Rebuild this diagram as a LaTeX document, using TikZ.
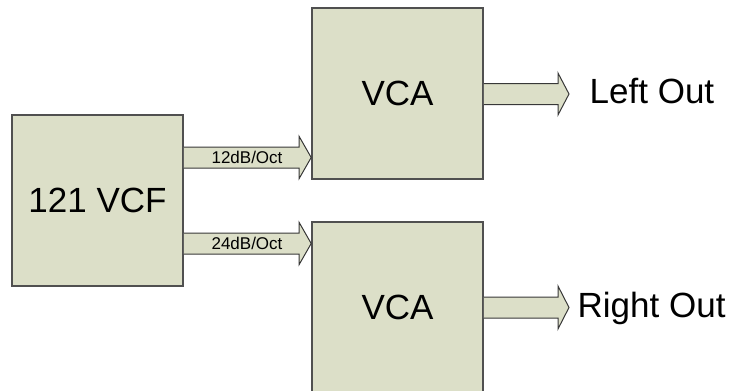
\documentclass[tikz,border=0pt]{standalone}
\usepackage{fontspec}
\setmainfont{Liberation Sans}
\usetikzlibrary{calc}
\definecolor{boxfill}{HTML}{DCDFC8}
\definecolor{boxline}{HTML}{505050}
\definecolor{arrline}{HTML}{383838}
\tikzset{
  block/.style={draw=boxline, line width=1.6pt, fill=boxfill, minimum width=171pt, minimum height=171pt, inner sep=0pt, font=\fontsize{35}{40}\selectfont},
  outlabel/.style={inner sep=0pt, anchor=base west, font=\fontsize{35}{40}\selectfont},
  smalllabel/.style={inner sep=0pt, font=\fontsize{17}{20}\selectfont},
  arrfill/.style={fill=boxfill},
  arrline/.style={draw=arrline, line width=1pt, line join=miter},
}
% #1 start, #2 tip, #3 half shaft, #4 half head, #5 head length
\newcommand\fatarrow[5]{%
  \fill[arrfill] ($(#1)+(0,-#3)$) -- ($(#2)+(-#5,-#3)$) -- ($(#2)+(-#5,-#4)$) -- (#2) -- ($(#2)+(-#5,#4)$) -- ($(#2)+(-#5,#3)$) -- ($(#1)+(0,#3)$) -- cycle;
  \draw[arrline] ($(#1)+(0,-#3)$) -- ($(#2)+(-#5,-#3)$) -- ($(#2)+(-#5,-#4)$) -- (#2) -- ($(#2)+(-#5,#4)$) -- ($(#2)+(-#5,#3)$) -- ($(#1)+(0,#3)$);
}
\begin{document}
\begin{tikzpicture}[x=1pt,y=-1pt]
\useasboundingbox (0,0) rectangle (734,391);
\begin{scope}
\clip (0,0) rectangle (734,391);
\node[block] (vcf) at (97.5,200.5) {121 VCF};
\node[block] (vcaA) at (397.5,93.5) {VCA};
\node[block] (vcaB) at (397.5,307.5) {VCA};

\coordinate (a1s) at (vcf.east |- 0,157.5);
\coordinate (a1e) at (vcaA.west |- 0,157.5);
\coordinate (a2s) at (vcf.east |- 0,243.5);
\coordinate (a2e) at (vcaB.west |- 0,243.5);
\coordinate (a3s) at (vcaA.east |- 0,94);
\coordinate (lo) at (569,94);
\coordinate (a4s) at (vcaB.east |- 0,307.5);
\coordinate (ro) at (569,307.5);

\fatarrow{a1s}{a1e}{10.5}{21}{12}
\fatarrow{a2s}{a2e}{10.5}{21}{12}
\fatarrow{a3s}{lo}{10.5}{21}{11}
\fatarrow{a4s}{ro}{10.5}{21.5}{11}

\node[smalllabel] (l12) at (247,157) {12dB/Oct};
\node[smalllabel] (l24) at (247,243) {24dB/Oct};

\node[outlabel] (leftout) at (589.5,103.5) {Left Out};
\node[outlabel] (rightout) at (577.5,317) {Right Out};
\end{scope}
\end{tikzpicture}
\end{document}
